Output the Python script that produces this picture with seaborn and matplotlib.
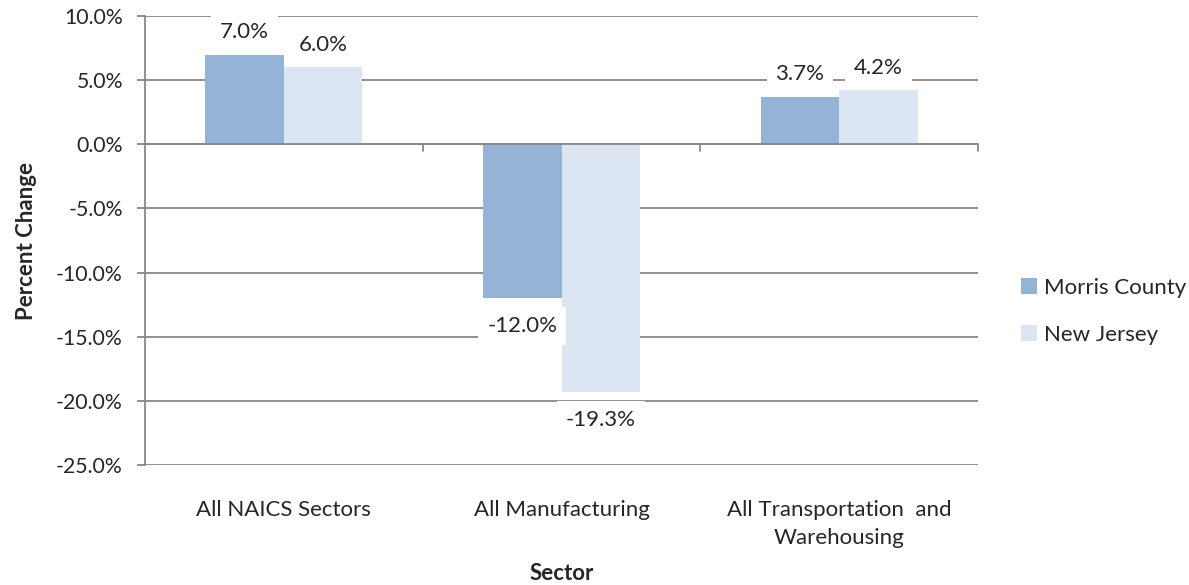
import matplotlib
matplotlib.use("Agg")
import matplotlib.pyplot as plt
import seaborn as sns
import pandas as pd

categories = ["All NAICS Sectors", "All Manufacturing", "All Transportation  and\nWarehousing"]
series_names = ["Morris County", "New Jersey"]
morris = [7.0, -12.0, 3.7]
new_jersey = [6.0, -19.3, 4.2]
y_ticks = [10, 5, 0, -5, -10, -15, -20, -25]
colors = ["#95B3D7", "#DCE6F2"]

sns.set_theme(style="white")
plt.rcParams['font.family'] = ['Lato', 'DejaVu Sans']

FS = 16
FS_Y = 15.3
GRID = "#888888"

df = pd.DataFrame({
    "Sector": categories * 2,
    "Series": [series_names[0]] * 3 + [series_names[1]] * 3,
    "Value": morris + new_jersey,
})

fig = plt.figure(figsize=(11.89, 5.85), dpi=100)
ax = fig.add_axes([0.122, 0.2051, 0.7005, 0.7675])

sns.barplot(data=df, x="Sector", y="Value", hue="Series", palette=colors,
            width=0.565, ax=ax, saturation=1, legend=True, edgecolor="none", linewidth=0)

ax.set_ylim(-25, 10)
ax.set_xlim(-0.5, len(categories) - 0.5)
ax.set_yticks(y_ticks)
ax.set_yticklabels([f"{t:.1f}%" for t in y_ticks], fontsize=FS_Y)
ax.yaxis.grid(True, color=GRID, linewidth=1.3)
ax.set_axisbelow(True)
for s in ["top", "right", "bottom"]:
    ax.spines[s].set_visible(False)
ax.spines["left"].set_color(GRID)
ax.spines["left"].set_linewidth(1.3)
ax.tick_params(axis="y", left=True, length=6, width=1.3, color=GRID, pad=10)
ax.tick_params(axis="x", bottom=False, pad=19)
for lbl in ax.get_xticklabels():
    lbl.set_fontsize(FS)
    lbl.set_linespacing(1.5)

# zero axis line with category separator ticks
ax.axhline(0, color=GRID, linewidth=1.3, zorder=1)
for b in [i + 0.5 for i in range(len(categories))]:
    ax.plot([b, b], [0, -0.55], color=GRID, linewidth=1.3, clip_on=False, zorder=2)

ax.set_xlabel("Sector", fontsize=FS, fontweight="bold", labelpad=11)
ax.set_ylabel("Percent Change", fontsize=FS, fontweight="bold", labelpad=14)

# data labels
for container in ax.containers:
    for bar in container:
        val = bar.get_height()
        x = bar.get_x() + bar.get_width() / 2
        yoff = 9 if val >= 0 else -13
        va = "bottom" if val >= 0 else "top"
        ax.annotate(f"{val:.1f}%", xy=(x, val), xytext=(0, yoff), textcoords="offset points",
                    ha="center", va=va, fontsize=FS,
                    bbox=dict(boxstyle="square,pad=0.4", fc="white", ec="none"), zorder=5)

leg = ax.get_legend()
handles = leg.legend_handles
leg.remove()
fig.legend(handles, series_names, loc="center left", bbox_to_anchor=(0.842, 0.468),
           frameon=False, fontsize=FS, handlelength=0.7, handleheight=0.7,
           labelspacing=1.2, handletextpad=0.35)

fig.savefig("out.png", dpi=100)
